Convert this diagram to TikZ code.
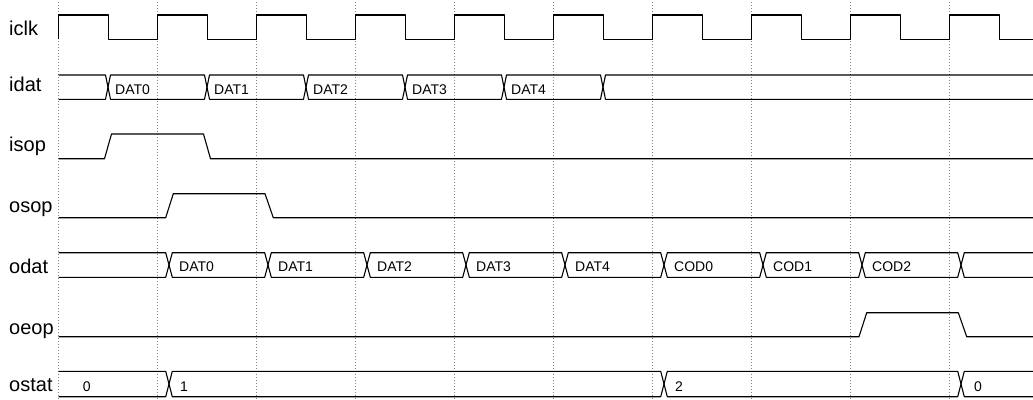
\documentclass[tikz,border=0pt]{standalone}
\usepackage{fontspec}
\setmainfont{Liberation Sans}
\begin{document}
\begin{tikzpicture}[x=1pt, y=-1pt]
  \tikzstyle{clkline}=[gray, line width=0.8pt, dash pattern=on 1pt off 2pt]
  \tikzstyle{sig}=[black, line width=1.1pt, line join=round]
  \tikzstyle{signame}=[anchor=base west, inner sep=0pt, font=\fontsize{20}{24}\selectfont]
  \tikzstyle{val}=[anchor=base west, inner sep=0pt, font=\fontsize{14}{16}\selectfont]
  \useasboundingbox (0,0) rectangle (1033,399);
  % clock edges
  \foreach \k in {0,...,9}
    \draw[clkline] (58.7+99*\k, 2) -- (58.7+99*\k, 399);
  % signal names
  \node[signame] (iclk) at (9, 35.3)  {iclk};
  \node[signame] (idat) at (9, 91.7)  {idat};
  \node[signame] (isop) at (9, 151.7) {isop};
  \node[signame] (osop) at (9, 212.7) {osop};
  \node[signame] (odat) at (9, 273.3) {odat};
  \node[signame] (oeop) at (9, 334)   {oeop};
  \node[signame] (ostat) at (9, 391.7) {ostat};
  % iclk
  \draw[sig] (58.7,39.3) \foreach \k in {0,...,8} {
      -- ++(0,-24.3) -- ++(49.5,0) -- ++(0,24.3) -- ++(49.5,0)}
    -- ++(0,-24.3) -- ++(49.5,0) -- ++(0,24.3) -- (1033,39.3);
  % idat
  \draw[sig] (58.7,75) -- (105.5,75) -- (108,87.2) -- (105.5,99.3) -- (58.7,99.3);
  \foreach \a/\b/\t [count=\i] in {108/207/DAT0, 207/306/DAT1, 306/405/DAT2, 405/504/DAT3, 504/603/DAT4} {
    \draw[sig] (\a,87.2) -- (\a+2.5,75) -- (\b-2.5,75) -- (\b,87.2) -- (\b-2.5,99.3) -- (\a+2.5,99.3) -- cycle;
    \node[val] (idat-\i) at (\a+7, 94.2) {\t};
  }
  \draw[sig] (1033,75) -- (605.5,75) -- (603,87.2) -- (605.5,99.3) -- (1033,99.3);
  % isop, osop
  \draw[sig] (58.7,158.7) -- (104.5,158.7) -- (111.5,134) -- (203.5,134) -- (210.5,158.7) -- (1033,158.7);
  \draw[sig] (58.7,217.7) -- (165.7,217.7) -- (173.3,193.7) -- (265,193.7) -- (273.3,217.7) -- (1033,217.7);
  % odat
  \draw[sig] (58.7,252.7) -- (165.7,252.7) -- (169,265) -- (165.7,277.3) -- (58.7,277.3);
  \foreach \a/\b/\t [count=\i] in {169/268/DAT0, 268/367/DAT1, 367/466/DAT2, 466/565/DAT3, 565/664/DAT4,
                                   664/763/COD0, 763/862/COD1, 862/961/COD2} {
    \draw[sig] (\a,265) -- (\a+3.3,252.7) -- (\b-3.3,252.7) -- (\b,265) -- (\b-3.3,277.3) -- (\a+3.3,277.3) -- cycle;
    \node[val] (odat-\i) at (\a+10, 271.7) {\t};
  }
  \draw[sig] (1033,252.7) -- (964.3,252.7) -- (961,265) -- (964.3,277.3) -- (1033,277.3);
  % oeop
  \draw[sig] (58.7,336.7) -- (859,336.7) -- (866.7,312.7) -- (958.3,312.7) -- (966.7,336.7) -- (1033,336.7);
  % ostat
  \draw[sig] (58.7,371.3) -- (165.7,371.3) -- (169,384) -- (165.7,396.7) -- (58.7,396.7);
  \node[val] (ostat-0) at (82.7, 391.7) {0};
  \foreach \a/\b/\t [count=\i] in {169/664/1, 664/961/2} {
    \draw[sig] (\a,384) -- (\a+3.3,371.3) -- (\b-3.3,371.3) -- (\b,384) -- (\b-3.3,396.7) -- (\a+3.3,396.7) -- cycle;
    \node[val] (ostat-\i) at (\a+11, 391.7) {\t};
  }
  \draw[sig] (1033,371.3) -- (964.3,371.3) -- (961,384) -- (964.3,396.7) -- (1033,396.7);
  \node[val] (ostat-3) at (974, 391.7) {0};
\end{tikzpicture}
\end{document}
